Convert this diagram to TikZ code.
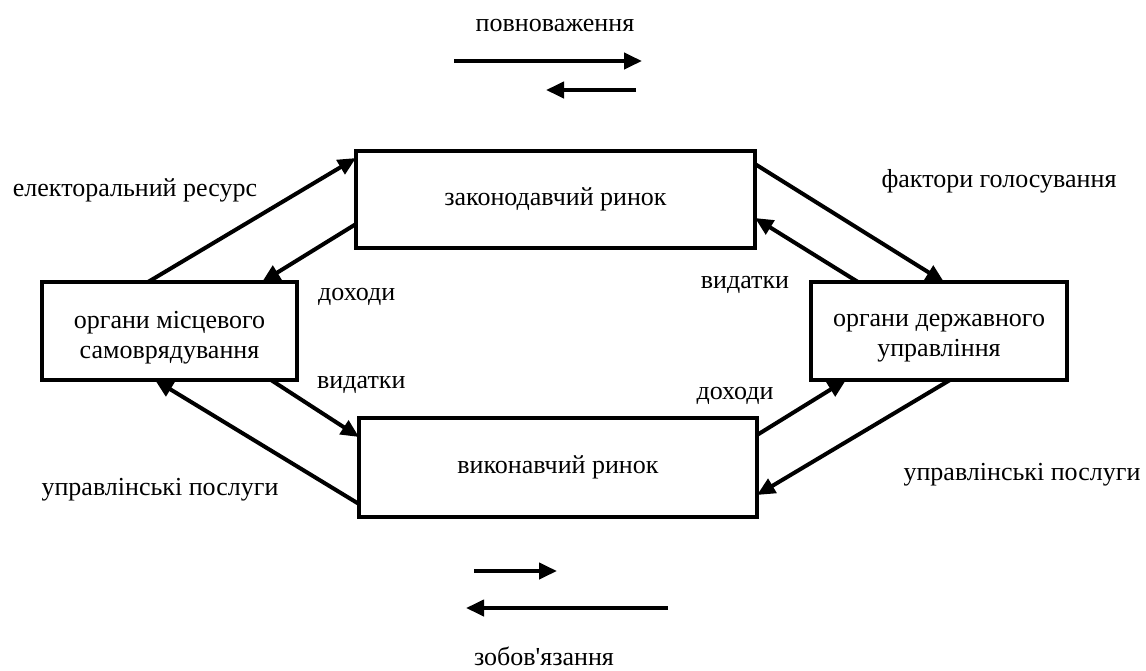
\documentclass[tikz,border=0pt]{standalone}
\usepackage{fontspec}
\setmainfont{Liberation Serif}[Ligatures=TeXOff]
\usetikzlibrary{arrows.meta,calc}
\begin{document}
\begin{tikzpicture}[x=1pt,y=-1pt,
  box/.style={draw,line width=4pt,inner sep=0pt,outer sep=0pt,align=center,font=\fontsize{26}{30}\selectfont},
  lbl/.style={anchor=base,inner sep=0pt,font=\fontsize{26}{30}\selectfont},
  flow/.style={line width=4pt,-{Triangle[length=18pt,width=16pt]}}]
 \useasboundingbox (0,0) rectangle (1146,670);
 % markets and bodies
 \node[box,minimum width=399pt,minimum height=97pt] (zak) at (555.5,199.5) {законодавчий ринок};
 \node[box,minimum width=398pt,minimum height=99pt] (vyk) at (558,467.5) {виконавчий ринок};
 \node[box,minimum width=255pt,minimum height=98pt,
   label={[lbl,anchor=center,align=center,yshift=-7pt]center:органи місцевого\\самоврядування}] (loc) at (169.5,331) {};
 \node[box,minimum width=256pt,minimum height=98pt,
   label={[lbl,anchor=center,align=center,yshift=-7pt]center:органи державного\\управління}] (derzh) at (939,331) {};
 % flows
 \draw[flow] ($(loc.north west)+(106,0)$) -- ($(zak.north west)+(0,7)$);
 \draw[flow] ($(zak.north west)+(0,73)$) -- ($(loc.north west)+(220,0)$);
 \draw[flow] ($(zak.north east)+(0,13)$) -- ($(derzh.north west)+(133,0)$);
 \draw[flow] ($(derzh.north west)+(47,0)$) -- ($(zak.north east)+(0,67)$);
 \draw[flow] ($(loc.south west)+(229,0)$) -- ($(vyk.north west)+(0,19)$);
 \draw[flow] ($(vyk.north west)+(0,86)$) -- ($(loc.south west)+(113,0)$);
 \draw[flow] ($(vyk.north east)+(0,17)$) -- ($(derzh.south west)+(35,0)$);
 \draw[flow] ($(derzh.south west)+(139,0)$) -- ($(vyk.north east)+(0,77)$);
 % labels
 \node[lbl] (elres) at (135,196) {електоральний ресурс};
 \node[lbl,anchor=base west] (doh1) at (318,300) {доходи};
 \node[lbl] (fakt) at (999,187) {фактори голосування};
 \node[lbl] (vyd1) at (745,288) {видатки};
 \node[lbl,anchor=base west] (vyd2) at (317,388) {видатки};
 \node[lbl] (doh2) at (735,399) {доходи};
 \node[lbl] (posl1) at (160,495) {управлінські послуги};
 \node[lbl] (posl2) at (1022,480) {управлінські послуги};
 % legend arrows
 \node[lbl] (povn) at (555,31) {повноваження};
 \coordinate (p1) at (454,61); \coordinate (p2) at (642,61);
 \coordinate (p3) at (636,90); \coordinate (p4) at (546,90);
 \draw[flow] (p1) -- (p2);
 \draw[flow] (p3) -- (p4);
 \coordinate (z1) at (474,571); \coordinate (z2) at (557,571);
 \coordinate (z3) at (668,608); \coordinate (z4) at (466,608);
 \draw[flow] (z1) -- (z2);
 \draw[flow] (z3) -- (z4);
 \node[lbl] (zobov) at (544,665) {зобов'язання};
\end{tikzpicture}
\end{document}
